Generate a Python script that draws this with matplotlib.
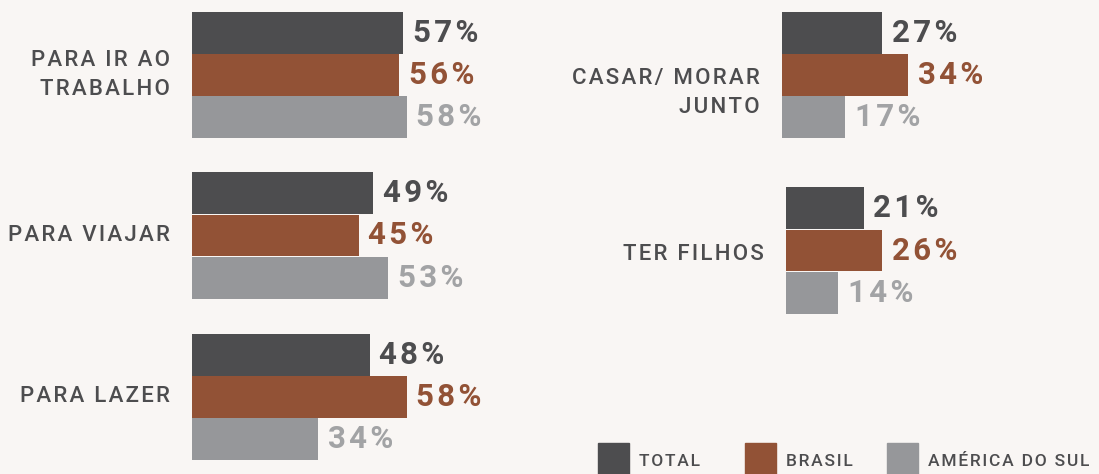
import matplotlib.pyplot as plt

# data
series = ["TOTAL", "BRASIL", "AMÉRICA DO SUL"]
categories = ["PARA IR AO\nTRABALHO", "PARA VIAJAR", "PARA LAZER",
              "CASAR/ MORAR\nJUNTO", "TER FILHOS"]
total = [57, 49, 48, 27, 21]
brasil = [56, 45, 58, 34, 26]
america_sul = [58, 53, 34, 17, 14]

bar_colors = ["#4d4d4f", "#925236", "#96979a"]
text_colors = ["#4d4d4f", "#925236", "#a2a3a5"]
bg = "#f9f6f4"
fam = ["Roboto", "DejaVu Sans"]


def spaced(s, gap="\u200a"):
    # fake letter spacing with hair spaces
    return "\n".join(gap.join(line) for line in s.split("\n"))


W, H = 1099, 474
fig = plt.figure(figsize=(W / 100, H / 100), dpi=100)
fig.patch.set_facecolor(bg)

# pixel boxes (left, top, bottom) for each group
boxes = [(192, 12, 138), (192, 172, 299), (192, 334, 460),
         (782, 12, 138), (786, 187, 314)]
label_shift = [0, 0, 0, 0.42, 0.1]
px_per_unit = 3.7

for k, (x0, y0, y1) in enumerate(boxes):
    ax = fig.add_axes([x0 / W, 1 - y1 / H, 100 * px_per_unit / W, (y1 - y0) / H])
    ax.set_facecolor("none")
    vals = [total[k], brasil[k], america_sul[k]]
    ax.barh(range(3), vals, height=0.98, color=bar_colors)
    for i, v in enumerate(vals):
        ax.annotate(spaced(f"{v}%"), (v, i), xytext=(7, 0), textcoords="offset points",
                    va="center", ha="left", fontsize=22.5, fontweight="bold",
                    color=text_colors[i], family=fam)
    ax.text(-22 / px_per_unit, 1 + label_shift[k], spaced(categories[k]),
            ha="right", va="center", fontsize=16, fontweight="medium",
            color="#4d4d4f", family=fam, linespacing=1.5)
    ax.set_xlim(0, 100)
    ax.set_ylim(2.5, -0.5)
    ax.axis("off")

# legend
leg_x = [598, 745, 887]
for x, name, c in zip(leg_x, series, bar_colors):
    fig.patches.append(plt.Rectangle((x / W, 0), 31 / W, 31 / H,
                                     transform=fig.transFigure, color=c))
    fig.text((x + 41) / W, 12 / H, spaced(name), ha="left", va="center",
             fontsize=12.5, fontweight="medium", color="#4d4d4f", family=fam)

fig.savefig("out.png", dpi=100, facecolor=bg)
